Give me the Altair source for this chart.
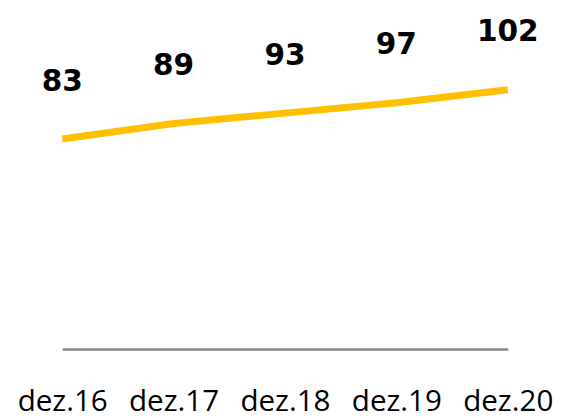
import altair as alt
import pandas as pd

categories = ["dez.16", "dez.17", "dez.18", "dez.19", "dez.20"]
values = [83, 89, 93, 97, 102]

df = pd.DataFrame({"cat": categories, "val": values})

x = alt.X(
    "cat:N",
    sort=categories,
    scale=alt.Scale(type="point", range=[55, 507], padding=0),
    axis=alt.Axis(
        title=None,
        ticks=False,
        grid=False,
        labelAngle=0,
        labelFont="Open Sans",
        labelFontSize=30,
        labelColor="#000000",
        labelPadding=62,
        labelBaseline="alphabetic",
        domainColor="#898989",
        domainWidth=2.5,
    ),
)
y = alt.Y(
    "val:Q",
    scale=alt.Scale(domain=[2, 132.4], nice=False, zero=False),
    axis=None,
)

line = alt.Chart(df).mark_line(color="#FFC000", strokeWidth=7).encode(x=x, y=y)
labels = alt.Chart(df).mark_text(
    font="DejaVu Sans",
    fontWeight="bold",
    fontSize=30,
    color="#000000",
    baseline="alphabetic",
    align="center",
    dy=-49,
).encode(x=x, y=y, text="val:Q")

chart = (
    alt.layer(line, labels)
    .properties(width=559, height=343, padding=0)
    .configure(background="#ffffff")
    .configure_view(strokeWidth=0, stroke=None)
)

chart.save("out.html", embed_options={"renderer": "svg", "actions": False})
